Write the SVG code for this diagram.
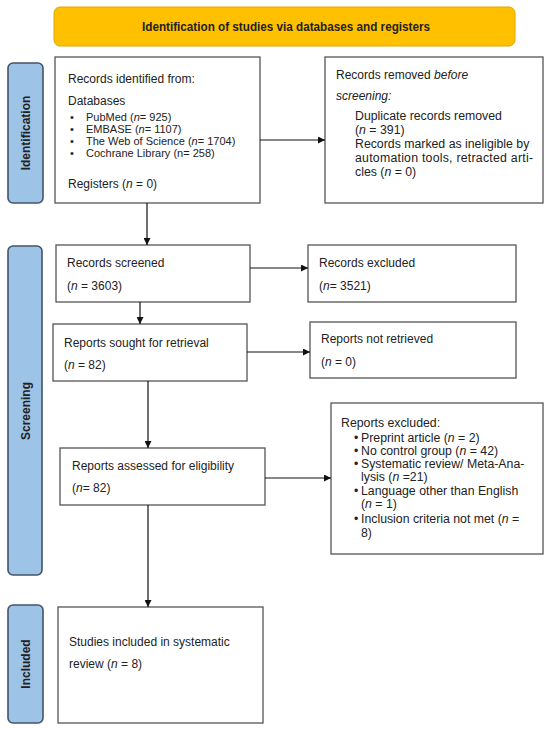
<svg xmlns="http://www.w3.org/2000/svg" width="550" height="729" viewBox="0 0 550 729">
<defs>
<style>
.box{fill:#fff;stroke:#555;stroke-width:1.3}
.side{fill:#9dc3e6;stroke:#44546a;stroke-width:1.6}
.hdr{fill:#ffc000;stroke:#e0a800;stroke-width:1}
text{font-family:"Liberation Sans",Arial,sans-serif;fill:#222}
.t{font-size:12px}
.s{font-size:11px}
.r{font-size:12.3px}
.b{font-weight:bold}
.c{stroke:#111;stroke-width:1.2;fill:none}
</style>
<marker id="ah" viewBox="0 0 10 10" refX="10" refY="5" markerWidth="7" markerHeight="7" markerUnits="userSpaceOnUse" orient="auto">
<path d="M0,0 L10,5 L0,10 z" fill="#111"/>
</marker>
</defs>
<rect width="550" height="729" fill="#fff"/>

<g id="header">
<rect class="hdr" x="54" y="7" width="461" height="39" rx="6"/>
<text class="t b" x="286" y="31" text-anchor="middle" textLength="288" lengthAdjust="spacingAndGlyphs">Identification of studies via databases and registers</text>
</g>

<g id="side-identification">
<rect class="side" x="8" y="63" width="35" height="140" rx="5"/>
<text class="t b" transform="translate(29.5,133) rotate(-90)" text-anchor="middle">Identification</text>
</g>
<g id="side-screening">
<rect class="side" x="8" y="246" width="34" height="329" rx="5"/>
<text class="t b" transform="translate(29.5,411) rotate(-90)" text-anchor="middle">Screening</text>
</g>
<g id="side-included">
<rect class="side" x="8" y="605" width="35" height="118" rx="5"/>
<text class="t b" transform="translate(29.5,664) rotate(-90)" text-anchor="middle">Included</text>
</g>

<g id="records-identified">
<rect class="box" x="55" y="57" width="205" height="146"/>
<text class="t" x="68" y="83">Records identified from:</text>
<text class="t" x="68" y="105">Databases</text>
<text class="s" x="70" y="121">•</text><text class="s" x="86" y="121">PubMed (<tspan font-style="italic">n</tspan>= 925)</text>
<text class="s" x="70" y="133">•</text><text class="s" x="86" y="133">EMBASE (<tspan font-style="italic">n</tspan>= 1107)</text>
<text class="s" x="70" y="145">•</text><text class="s" x="86" y="145">The Web of Science (<tspan font-style="italic">n</tspan>= 1704)</text>
<text class="s" x="70" y="157">•</text><text class="s" x="86" y="157">Cochrane Library (n= 258)</text>
<text class="t" x="68" y="188">Registers (<tspan font-style="italic">n</tspan> = 0)</text>
</g>

<g id="records-removed">
<rect class="box" x="325" y="57" width="218" height="146"/>
<text class="t" x="336" y="79">Records removed <tspan font-style="italic">before</tspan></text>
<text class="t" x="336" y="100" font-style="italic">screening:</text>
<text class="r" x="355" y="120">Duplicate records removed</text>
<text class="r" x="355" y="134">(<tspan font-style="italic">n</tspan> = 391)</text>
<text class="r" x="355" y="148">Records marked as ineligible by</text>
<text class="r" x="355" y="162" textLength="178" lengthAdjust="spacing">automation tools, retracted arti-</text>
<text class="r" x="355" y="176">cles (<tspan font-style="italic">n</tspan> = 0)</text>
</g>

<g id="records-screened">
<rect class="box" x="56" y="245" width="194" height="57"/>
<text class="t" x="67" y="267">Records screened</text>
<text class="t" x="67" y="290">(<tspan font-style="italic">n</tspan> = 3603)</text>
</g>

<g id="records-excluded">
<rect class="box" x="308" y="245" width="208" height="57"/>
<text class="t" x="319" y="267">Records excluded</text>
<text class="t" x="319" y="290">(<tspan font-style="italic">n</tspan>= 3521)</text>
</g>

<g id="reports-sought">
<rect class="box" x="53" y="324" width="194" height="57"/>
<text class="t" x="64" y="347">Reports sought for retrieval</text>
<text class="t" x="64" y="369">(<tspan font-style="italic">n</tspan> = 82)</text>
</g>

<g id="reports-not-retrieved">
<rect class="box" x="310" y="322" width="206" height="56"/>
<text class="t" x="321" y="343">Reports not retrieved</text>
<text class="t" x="321" y="366">(<tspan font-style="italic">n</tspan> = 0)</text>
</g>

<g id="reports-assessed">
<rect class="box" x="60" y="448" width="205" height="57"/>
<text class="t" x="72" y="470">Reports assessed for eligibility</text>
<text class="t" x="72" y="492">(<tspan font-style="italic">n</tspan>= 82)</text>
</g>

<g id="reports-excluded">
<rect class="box" x="331" y="403" width="212" height="151"/>
<text class="r" x="341" y="427">Reports excluded:</text>
<text class="r" x="354" y="442">•</text><text class="r" x="361" y="442">Preprint article (<tspan font-style="italic">n</tspan> = 2)</text>
<text class="r" x="354" y="455">•</text><text class="r" x="361" y="455">No control group (<tspan font-style="italic">n</tspan> = 42)</text>
<text class="r" x="354" y="468">•</text><text class="r" x="361" y="468">Systematic review/ Meta-Ana-</text>
<text class="r" x="361" y="481">lysis (<tspan font-style="italic">n</tspan> =21)</text>
<text class="r" x="354" y="495">•</text><text class="r" x="361" y="495">Language other than English</text>
<text class="r" x="361" y="508">(<tspan font-style="italic">n</tspan> = 1)</text>
<text class="r" x="354" y="523">•</text><text class="r" x="361" y="523">Inclusion criteria not met (<tspan font-style="italic">n</tspan> =</text>
<text class="r" x="361" y="537">8)</text>
</g>

<g id="studies-included">
<rect class="box" x="58" y="607" width="205" height="116"/>
<text class="t" x="69" y="646">Studies included in systematic</text>
<text class="t" x="69" y="668">review (<tspan font-style="italic">n</tspan> = 8)</text>
</g>

<g id="connectors">
<line class="c" x1="260" y1="140" x2="325" y2="140" marker-end="url(#ah)"/>
<line class="c" x1="147" y1="203" x2="147" y2="245" marker-end="url(#ah)"/>
<line class="c" x1="250" y1="268" x2="308" y2="268" marker-end="url(#ah)"/>
<line class="c" x1="140" y1="302" x2="140" y2="324" marker-end="url(#ah)"/>
<line class="c" x1="247" y1="352" x2="310" y2="352" marker-end="url(#ah)"/>
<line class="c" x1="148" y1="381" x2="148" y2="448" marker-end="url(#ah)"/>
<line class="c" x1="265" y1="478" x2="331" y2="478" marker-end="url(#ah)"/>
<line class="c" x1="148" y1="505" x2="148" y2="607" marker-end="url(#ah)"/>
</g>
</svg>
